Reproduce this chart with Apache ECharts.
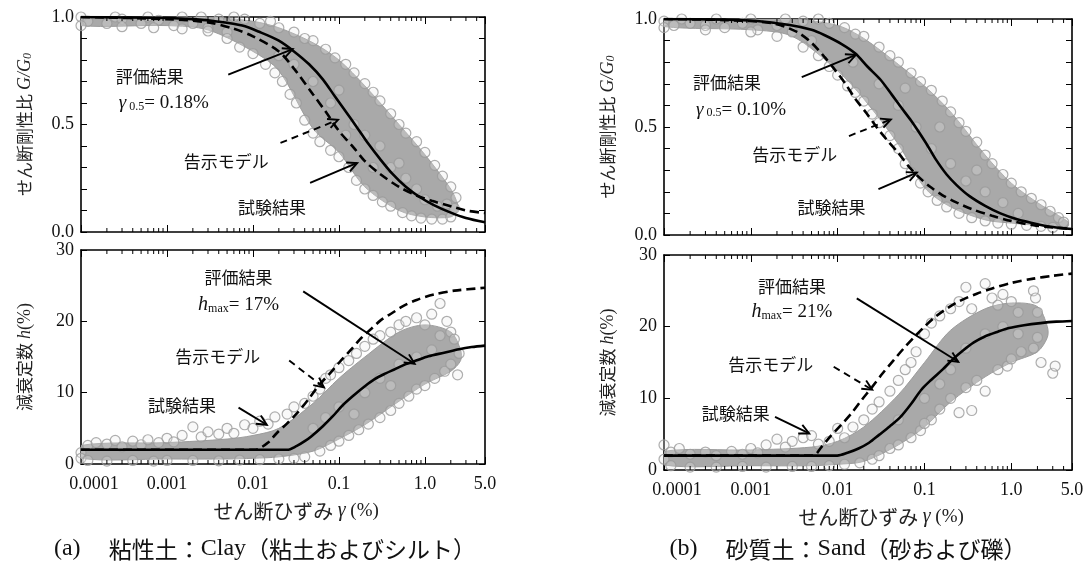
<!DOCTYPE html>
<html><head><meta charset="utf-8">
<script src="https://cdn.jsdelivr.net/npm/echarts@6/dist/echarts.min.js"></script>
<style>html,body{margin:0;padding:0;background:#fff}#c{width:1091px;height:572px}</style>
</head><body><div id="c"></div>
<script>
// ---------- tick labels ----------
const xTickValues = [0.0001, 0.001, 0.01, 0.1, 1, 5];
const xTickLabels = ['0.0001', '0.001', '0.01', '0.1', '1.0', '5.0'];
const gTickValues = [0, 0.5, 1.0];
const gTickLabels = ['0.0', '0.5', '1.0'];
const hTickValues = [0, 10, 20, 30];
const hTickLabels = ['0', '10', '20', '30'];
const minorDecades = [0.0001, 0.001, 0.01, 0.1, 1];
const minorMultipliers = [2, 3, 4, 5, 6, 7, 8, 9];

// ---------- (a) Clay : G/G0 ----------
const clayG_eval = [[0.0001,1.0],[0.001,0.995],[0.002,0.99],[0.004,0.978],[0.0075,0.96],[0.012,0.93],[0.02,0.89],[0.03,0.84],[0.045,0.78],[0.065,0.71],[0.09,0.63],[0.12,0.56],[0.16,0.49],[0.22,0.41],[0.3,0.34],[0.42,0.27],[0.6,0.21],[0.85,0.165],[1.27,0.125],[2,0.09],[3,0.065],[5,0.045]];
const clayG_model = [[0.0001,1.0],[0.001,0.99],[0.003,0.975],[0.006,0.945],[0.01,0.91],[0.02,0.84],[0.03,0.76],[0.05,0.64],[0.07,0.56],[0.1,0.47],[0.15,0.39],[0.2,0.33],[0.3,0.27],[0.5,0.21],[0.8,0.17],[1.2,0.145],[2,0.12],[3,0.1],[5,0.088]];
const clayG_bandX = [0.0001,0.001,0.003,0.01,0.02,0.05,0.1,0.2,0.5,1.0,2.0,2.4];
const clayG_lo = [0.96,0.96,0.94,0.84,0.75,0.48,0.37,0.21,0.1,0.07,0.07,0.1];
const clayG_hi = [1.0,1.0,1.0,0.98,0.95,0.88,0.8,0.68,0.5,0.36,0.2,0.13];
const clayG_pts = [[0.0001,1.0],[0.00012,0.98],[0.00015,1.01],[0.0002,0.97],[0.00025,1.0],[0.0003,0.99],[0.0004,1.01],[0.0005,0.97],[0.0006,1.0],[0.0008,0.985],[0.001,1.01],[0.0012,0.96],[0.0015,1.0],[0.002,0.97],[0.0025,1.0],[0.003,0.95],[0.004,0.99],[0.005,0.93],[0.006,1.0],
[0.0001,0.96],[0.0003,0.955],[0.0007,0.95],[0.0015,0.945],[0.003,0.935],[0.005,0.9],[0.007,0.86],[0.01,0.83],[0.014,0.78],[0.018,0.74],[0.022,0.7],[0.027,0.64],[0.032,0.6],[0.04,0.52],[0.05,0.46],[0.06,0.42],[0.08,0.38],[0.1,0.35],[0.13,0.3],[0.16,0.24],[0.2,0.2],[0.25,0.17],[0.32,0.14],[0.4,0.12],[0.55,0.09],[0.7,0.075],[0.9,0.065],[1.2,0.06],[1.6,0.06],[2.0,0.07],
[0.008,0.99],[0.012,0.97],[0.016,0.98],[0.02,0.95],[0.03,0.93],[0.04,0.9],[0.05,0.89],[0.07,0.85],[0.09,0.81],[0.12,0.78],[0.15,0.74],[0.2,0.69],[0.25,0.65],[0.3,0.61],[0.4,0.55],[0.5,0.5],[0.6,0.46],[0.8,0.42],[1.0,0.37],[1.3,0.31],[1.6,0.26],[2.0,0.21],[2.3,0.16],[2.2,0.11],[1.8,0.13],
[0.02,0.82],[0.05,0.7],[0.08,0.6],[0.1,0.66],[0.15,0.5],[0.2,0.45],[0.3,0.4],[0.4,0.3],[0.6,0.25],[0.8,0.2],[1.0,0.15],[1.4,0.12],[0.03,0.78],[0.12,0.45],[0.25,0.3],[0.5,0.32]];

// ---------- (a) Clay : h ----------
const clayH_eval = [[0.0001,2.0],[0.025,2.0],[0.032,2.5],[0.04,3.2],[0.048,3.9],[0.065,5.3],[0.085,6.7],[0.11,8.2],[0.148,9.6],[0.2,10.9],[0.26,11.9],[0.35,12.7],[0.45,13.3],[0.6,14.0],[0.79,14.5],[1.1,15.1],[1.67,15.6],[2.5,16.1],[3.5,16.4],[5,16.6]];
const clayH_model = [[0.0001,2.0],[0.01,2.0],[0.0115,2.1],[0.015,3.0],[0.019,4.35],[0.025,5.7],[0.033,7.2],[0.045,9.2],[0.058,11.0],[0.08,12.8],[0.102,14.3],[0.14,16.1],[0.18,17.6],[0.24,19.0],[0.31,20.2],[0.42,21.2],[0.55,22.1],[0.8,23.0],[1.27,23.75],[2.2,24.3],[5,24.7]];
const clayH_bandX = [0.0001,0.001,0.005,0.01,0.02,0.05,0.1,0.2,0.5,1.0,2.0,2.6];
const clayH_lo = [0.8,0.7,0.7,0.8,1.0,1.8,3.5,5.5,8.8,11.2,13,14.5];
const clayH_hi = [2.6,3.0,3.5,4.0,5.0,8.5,12.0,15.0,18.5,19.5,18.5,16];
const clayH_pts = [[0.0001,1.6],[0.0001,0.8],[0.00012,2.6],[0.00015,3.0],[0.0002,2.8],[0.00025,3.3],[0.0003,2.4],[0.0004,3.2],[0.0005,2.7],[0.0006,3.4],[0.0008,3.0],[0.001,3.6],[0.0012,3.1],[0.0015,4.0],[0.002,5.2],[0.0025,3.8],[0.003,4.5],[0.004,4.2],[0.005,5.0],[0.006,4.3],[0.008,5.5],[0.01,5.0],[0.012,6.0],[0.015,5.6],[0.018,6.6],
[0.00012,0.5],[0.0002,0.4],[0.0004,0.5],[0.0007,0.4],[0.001,0.5],[0.002,0.5],[0.004,0.45],[0.007,0.55],[0.012,0.6],[0.02,0.7],[0.03,0.8],
[0.025,7.0],[0.03,8.0],[0.04,8.5],[0.05,9.5],[0.06,10.5],[0.07,12.0],[0.08,12.5],[0.1,13.5],[0.13,14.5],[0.16,15.5],[0.2,16.5],[0.25,17.5],[0.3,18.0],[0.4,18.5],[0.5,19.5],[0.6,20.0],[0.8,20.5],[1.0,19.5],[1.2,21.0],[1.5,22.5],[1.8,20.0],[2.0,18.5],[2.5,15.5],[2.2,17.5],
[0.04,1.0],[0.06,1.8],[0.08,2.6],[0.1,3.2],[0.13,4.0],[0.17,4.8],[0.22,5.6],[0.3,6.5],[0.4,7.5],[0.5,8.5],[0.65,9.5],[0.8,10.5],[1.0,11.0],[1.3,12.0],[1.7,13.0],[2.0,14.0],[2.4,12.5],
[0.05,5],[0.1,8],[0.2,10],[0.3,12],[0.5,14],[0.8,15],[1.2,16],[0.15,7],[0.07,6.5],[0.4,11],[1.5,18]];

// ---------- (b) Sand : G/G0 ----------
const sandG_eval = [[0.0001,1.0],[0.0005,0.997],[0.0011,0.992],[0.0028,0.972],[0.005,0.95],[0.007,0.926],[0.011,0.885],[0.016,0.84],[0.022,0.78],[0.031,0.72],[0.042,0.65],[0.054,0.59],[0.07,0.53],[0.085,0.48],[0.11,0.41],[0.135,0.35],[0.18,0.28],[0.236,0.23],[0.33,0.18],[0.5,0.135],[0.75,0.1],[1.14,0.074],[2,0.05],[3,0.037],[5,0.028]];
const sandG_model = [[0.0001,1.0],[0.0005,0.995],[0.0018,0.98],[0.0034,0.94],[0.005,0.89],[0.007,0.826],[0.0095,0.76],[0.0123,0.70],[0.016,0.63],[0.0214,0.565],[0.028,0.5],[0.037,0.44],[0.05,0.38],[0.065,0.32],[0.085,0.27],[0.113,0.227],[0.16,0.185],[0.236,0.15],[0.35,0.12],[0.6,0.089],[1.0,0.065],[1.8,0.045],[3,0.035],[5,0.028]];
const sandG_bandX = [0.0001,0.001,0.003,0.01,0.02,0.05,0.1,0.2,0.5,1.0,2.0,3.5,4.5];
const sandG_lo = [0.965,0.95,0.92,0.76,0.63,0.42,0.22,0.13,0.07,0.055,0.045,0.04,0.04];
const sandG_hi = [1.0,1.0,1.0,0.97,0.91,0.79,0.69,0.57,0.37,0.24,0.15,0.09,0.06];
const sandG_pts = [[0.0001,0.99],[0.00011,1.02],[0.00013,0.97],[0.00016,1.0],[0.0002,0.98],[0.00025,1.01],[0.0003,0.97],[0.0004,1.0],[0.0005,0.96],[0.0006,1.01],[0.0008,0.98],[0.001,1.0],[0.0012,0.95],[0.0015,1.01],[0.002,0.97],[0.0025,1.0],[0.003,0.94],[0.004,0.99],[0.005,0.9],
[0.0001,0.96],[0.0003,0.95],[0.001,0.94],[0.002,0.92],[0.004,0.87],[0.006,0.83],[0.008,0.78],[0.01,0.74],[0.013,0.69],[0.016,0.66],[0.02,0.62],[0.025,0.56],[0.03,0.52],[0.04,0.46],[0.05,0.4],[0.06,0.33],[0.07,0.29],[0.09,0.24],[0.11,0.2],[0.14,0.16],[0.18,0.13],[0.25,0.1],[0.35,0.08],[0.5,0.065],[0.7,0.055],[1.0,0.05],[1.5,0.045],[2.2,0.04],[3.0,0.035],
[0.006,1.0],[0.008,0.98],[0.012,0.96],[0.016,0.93],[0.02,0.92],[0.03,0.87],[0.04,0.83],[0.05,0.8],[0.07,0.75],[0.09,0.71],[0.12,0.67],[0.16,0.62],[0.2,0.57],[0.25,0.52],[0.3,0.48],[0.4,0.43],[0.5,0.37],[0.6,0.33],[0.8,0.28],[1.0,0.24],[1.3,0.2],[1.7,0.17],[2.2,0.14],[2.8,0.11],[3.5,0.08],[4.0,0.06],
[0.015,0.8],[0.03,0.7],[0.05,0.6],[0.08,0.5],[0.12,0.4],[0.2,0.33],[0.3,0.25],[0.5,0.2],[0.8,0.15],[1.2,0.1],[0.06,0.68],[0.15,0.5],[0.4,0.3]];

// ---------- (b) Sand : h ----------
const sandH_eval = [[0.0001,2.0],[0.0099,2.0],[0.013,2.4],[0.0174,3.0],[0.023,3.8],[0.03,4.9],[0.04,6.1],[0.053,7.4],[0.07,9.2],[0.092,11.2],[0.12,12.6],[0.161,14.0],[0.21,15.4],[0.28,16.7],[0.37,17.8],[0.49,18.6],[0.7,19.3],[0.94,19.8],[1.4,20.2],[2.17,20.5],[3.3,20.7],[5,20.8]];
const sandH_model = [[0.0001,2.0],[0.0052,2.0],[0.0065,3.2],[0.0082,4.65],[0.011,6.3],[0.0144,7.9],[0.019,9.8],[0.025,11.6],[0.033,13.5],[0.044,15.3],[0.058,17.0],[0.077,18.6],[0.1,20.0],[0.134,21.4],[0.19,22.7],[0.256,23.6],[0.4,24.6],[0.59,25.3],[1.0,26.1],[1.8,26.7],[3,27.1],[5,27.4]];
const sandH_bandX = [0.0001,0.001,0.005,0.01,0.02,0.05,0.1,0.2,0.5,1.0,2.0,2.6];
const sandH_lo = [0.7,0.6,0.6,0.8,1.2,3.5,6.0,9.5,13.0,15.0,16.5,18.5];
const sandH_hi = [2.6,2.8,3.2,4.0,6.0,10.5,15.0,19.5,22.5,23.3,22.8,20.0];
const sandH_pts = [[0.0001,3.5],[0.0001,1.5],[0.00012,2.5],[0.00015,3.0],[0.0002,2.2],[0.0003,2.5],[0.0004,2.0],[0.0006,2.6],[0.0008,2.2],[0.001,3.0],[0.0012,2.4],[0.0015,3.5],[0.002,4.3],[0.0025,3.2],[0.003,4.0],[0.004,4.5],[0.005,4.8],[0.006,3.6],[0.008,4.0],[0.01,5.8],[0.012,4.5],
[0.00012,0.6],[0.0002,0.4],[0.0004,0.4],[0.0008,0.5],[0.0015,0.4],[0.003,0.5],[0.005,0.5],[0.008,0.6],[0.012,0.8],[0.018,1.0],[0.025,1.5],
[0.015,6.0],[0.02,7.0],[0.025,8.5],[0.03,9.5],[0.04,11.0],[0.05,12.5],[0.06,14.0],[0.07,15.0],[0.08,16.5],[0.1,19.0],[0.12,20.5],[0.15,21.5],[0.2,22.5],[0.25,23.5],[0.3,25.5],[0.35,22.5],[0.5,26.0],[0.6,24.0],[0.7,23.0],[0.8,24.5],[1.0,23.5],[1.2,22.0],[1.8,25.0],[1.9,24.0],[2.0,22.0],
[0.03,2.0],[0.04,3.0],[0.05,3.5],[0.07,4.5],[0.09,5.5],[0.12,7.0],[0.15,8.5],[0.2,10.0],[0.25,8.0],[0.3,11.5],[0.4,12.5],[0.5,11.0],[0.7,14.0],[0.9,14.5],[1.0,15.5],[1.3,16.5],[1.8,17.0],[2.0,18.5],[2.2,15.0],[3.0,13.5],[3.2,14.5],[0.1,6.5],[0.35,8.3],
[0.05,7],[0.1,10],[0.2,14],[0.3,17],[0.5,19],[0.8,20],[1.2,19],[0.15,12]];

// ---------- build chart ----------
const SERIF = 'Liberation Serif';
const JP = 'Noto Sans CJK JP';
const minorTicks = [];
minorDecades.forEach(d => minorMultipliers.forEach(m => { const v = d * m; if (v < 5) minorTicks.push(v); }));

function near(a, b) { return Math.abs(Math.log10(a) - Math.log10(b)) < 1e-6; }
function fmtX(v) {
  for (let i = 0; i < xTickValues.length; i++) if (near(v, xTickValues[i])) return i === 0 ? '{f|' + xTickLabels[i] + '}' : xTickLabels[i];
  return '';
}
function fmtY(vals, labs) {
  return v => { for (let i = 0; i < vals.length; i++) if (Math.abs(v - vals[i]) < 1e-6) return labs[i]; return ''; };
}

const grids = [
  {left: 81, top: 17, width: 404, height: 215},
  {left: 81, top: 250, width: 404, height: 214},
  {left: 664, top: 19, width: 408, height: 216},
  {left: 664, top: 255, width: 408, height: 215}
];
const panels = [
  {eval: clayG_eval, model: clayG_model, bx: clayG_bandX, lo: clayG_lo, hi: clayG_hi, pts: clayG_pts, kind: 'G'},
  {eval: clayH_eval, model: clayH_model, bx: clayH_bandX, lo: clayH_lo, hi: clayH_hi, pts: clayH_pts, kind: 'h'},
  {eval: sandG_eval, model: sandG_model, bx: sandG_bandX, lo: sandG_lo, hi: sandG_hi, pts: sandG_pts, kind: 'G'},
  {eval: sandH_eval, model: sandH_model, bx: sandH_bandX, lo: sandH_lo, hi: sandH_hi, pts: sandH_pts, kind: 'h'}
];

const axisLine = {show: true, onZero: false, lineStyle: {color: '#000', width: 1.6}};
const xAxes = [], yAxes = [], series = [];
panels.forEach((p, i) => {
  const bottomPlot = p.kind === 'h';
  const common = {type: 'log', logBase: 10, gridIndex: i, min: 0.0001, max: 5, splitLine: {show: false}, axisLine: axisLine,
    axisTick: {show: true, inside: true, length: 7, lineStyle: {color: '#000', width: 1}}};
  xAxes.push(Object.assign({}, common, {position: 'bottom',
    axisLabel: {show: bottomPlot, margin: 11, fontFamily: SERIF, fontSize: 18, color: '#111', hideOverlap: false, formatter: fmtX,
      rich: {f: {fontFamily: SERIF, fontSize: 18, color: '#111', padding: [0, 0, 0, 26]}}},
    name: bottomPlot ? '{p|}{j|せん断ひずみ }{g|γ}{s| (%)}' : '', nameLocation: 'middle', nameGap: 37,
    nameTextStyle: {rich: {p: {width: 26}, j: {fontFamily: JP, fontSize: 20, color: '#222'}, g: {fontFamily: SERIF, fontStyle: 'italic', fontSize: 20, color: '#222'}, s: {fontFamily: SERIF, fontSize: 19, color: '#222'}}}
  }));
  xAxes.push(Object.assign({}, common, {position: 'top', axisLabel: {show: false}}));
  const yMax = p.kind === 'G' ? 1 : 30;
  const yInt = p.kind === 'G' ? 0.1 : 10;
  const ycommon = {type: 'value', gridIndex: i, min: 0, max: yMax, interval: yInt, splitLine: {show: false}, axisLine: axisLine,
    axisTick: {show: true, inside: true, length: 6, lineStyle: {color: '#000', width: 1}}};
  yAxes.push(Object.assign({}, ycommon, {position: 'left',
    axisLabel: {show: true, margin: 7, fontFamily: SERIF, fontSize: 18, color: '#111',
      formatter: p.kind === 'G' ? fmtY(gTickValues, gTickLabels) : fmtY(hTickValues, hTickLabels)},
    name: p.kind === 'G' ? '{j|せん断剛性比 }{i|G/G}{s|0}' : '{j|減衰定数 }{i|h}{n|(%)}',
    nameLocation: 'middle', nameRotate: 90, nameGap: 47,
    nameTextStyle: {rich: {
      j: {fontFamily: JP, fontSize: 17, color: '#222'},
      i: {fontFamily: SERIF, fontStyle: 'italic', fontSize: 18, color: '#222'},
      n: {fontFamily: SERIF, fontSize: 18, color: '#222'},
      s: {fontFamily: SERIF, fontStyle: 'italic', fontSize: 12, color: '#222', verticalAlign: 'bottom', lineHeight: 12}}}
  }));
  yAxes.push(Object.assign({}, ycommon, {position: 'right', axisLabel: {show: false}}));

  const xi = 2 * i, yi = 2 * i;
  // dense core of the test-result cloud
  series.push({type: 'custom', xAxisIndex: xi, yAxisIndex: yi, z: 1, clip: true, silent: true,
    data: [[p.bx[0], p.lo[0]]],
    renderItem: (params, api) => {
      const pts = [];
      p.bx.forEach((x, k) => pts.push(api.coord([x, p.hi[k]])));
      for (let k = p.bx.length - 1; k >= 0; k--) pts.push(api.coord([p.bx[k], p.lo[k]]));
      return {type: 'polygon', shape: {points: pts, smooth: 0.3}, style: {fill: '#a9a9a9', stroke: '#9c9c9c', lineWidth: 1}};
    }});
  // individual test-result circles
  series.push({type: 'scatter', xAxisIndex: xi, yAxisIndex: yi, z: 2, silent: true, data: p.pts, symbol: 'circle', symbolSize: 10,
    itemStyle: {color: 'rgba(235,235,235,0.35)', borderColor: '#9a9a9a', borderWidth: 1.2}});
  // model (dashed)
  series.push({type: 'line', xAxisIndex: xi, yAxisIndex: yi, z: 3, data: p.model, showSymbol: false, smooth: 0.3, silent: true,
    lineStyle: {color: '#000', width: 2.6, type: [9, 5]}});
  // evaluation (solid)
  series.push({type: 'line', xAxisIndex: xi, yAxisIndex: yi, z: 4, data: p.eval, showSymbol: false, smooth: 0.3, silent: true,
    lineStyle: {color: '#000', width: 2.6}});
  // log minor ticks on top & bottom edges
  series.push({type: 'custom', xAxisIndex: xi, yAxisIndex: yi, z: 5, clip: false, silent: true,
    data: minorTicks.map(v => [v, 0]),
    renderItem: (params, api) => {
      const v = api.value(0);
      const b = api.coord([v, 0]), t = api.coord([v, yMax]);
      return {type: 'group', children: [
        {type: 'line', shape: {x1: b[0], y1: b[1], x2: b[0], y2: b[1] - 4}, style: {stroke: '#000', lineWidth: 1}},
        {type: 'line', shape: {x1: t[0], y1: t[1], x2: t[0], y2: t[1] + 4}, style: {stroke: '#000', lineWidth: 1}}]};
    }});
});

const chart = echarts.init(document.getElementById('c'), null, {renderer: 'canvas'});
chart.setOption({
  animation: false,
  backgroundColor: '#fff',
  grid: grids.map(g => Object.assign({containLabel: false, outerBoundsMode: 'none'}, g)),
  xAxis: xAxes, yAxis: yAxes, series: series
});

// ---------- annotations ----------
const richStyle = {
  gm: {fontFamily: SERIF, fontStyle: 'italic', fontSize: 19, fill: '#111'},
  hi: {fontFamily: SERIF, fontStyle: 'italic', fontSize: 20, fill: '#111'},
  sub: {fontFamily: SERIF, fontSize: 12, fill: '#111', verticalAlign: 'bottom', lineHeight: 13},
  n: {fontFamily: SERIF, fontSize: 19, fill: '#111'}
};
const ann = [
  {g: 0, t: '評価結果', at: [0.00063, 0.724]},
  {g: 0, t: '{gm|γ}{sub| 0.5}{n|= 0.18%}', at: [0.00092, 0.6], rich: true},
  {g: 0, a: [[0.00516, 0.732], [0.029, 0.851]]},
  {g: 0, t: '告示モデル', at: [0.0049, 0.329]},
  {g: 0, a: [[0.0209, 0.414], [0.0975, 0.522]], dashed: true},
  {g: 0, t: '試験結果', at: [0.0166, 0.112]},
  {g: 0, a: [[0.0462, 0.228], [0.163, 0.321]]},

  {g: 1, t: '評価結果', at: [0.0068, 26.1]},
  {g: 1, t: '{hi|h}{sub|max}{n|= 17%}', at: [0.0068, 22.3], rich: true},
  {g: 1, a: [[0.0384, 24.2], [0.76, 14.05]]},
  {g: 1, t: '告示モデル', at: [0.0039, 15.0]},
  {g: 1, a: [[0.0264, 14.5], [0.067, 10.74]], dashed: true},
  {g: 1, t: '試験結果', at: [0.0015, 8.14]},
  {g: 1, a: [[0.0068, 7.9], [0.0145, 5.5]]},

  {g: 2, t: '評価結果', at: [0.00053, 0.704]},
  {g: 2, t: '{gm|γ}{sub| 0.5}{n|= 0.10%}', at: [0.00077, 0.58], rich: true},
  {g: 2, a: [[0.00386, 0.731], [0.0162, 0.834]]},
  {g: 2, t: '告示モデル', at: [0.0032, 0.373]},
  {g: 2, a: [[0.0135, 0.458], [0.041, 0.535]], dashed: true},
  {g: 2, t: '試験結果', at: [0.0085, 0.127]},
  {g: 2, a: [[0.0295, 0.212], [0.0817, 0.289]]},

  {g: 3, t: '評価結果', at: [0.00297, 25.6]},
  {g: 3, t: '{hi|h}{sub|max}{n|= 21%}', at: [0.00297, 22.1], rich: true},
  {g: 3, a: [[0.0166, 23.95], [0.245, 15.1]]},
  {g: 3, t: '告示モデル', at: [0.0017, 14.65]},
  {g: 3, a: [[0.009, 14.4], [0.025, 11.2]], dashed: true},
  {g: 3, t: '試験結果', at: [0.00067, 7.9]},
  {g: 3, a: [[0.0019, 7.4], [0.0047, 5.1]]}
];
const graphics = [];
ann.forEach(o => {
  if (o.t) {
    const p = chart.convertToPixel({gridIndex: o.g}, o.at);
    graphics.push({type: 'text', x: p[0], y: p[1], z: 20, silent: true,
      style: o.rich ? {text: o.t, rich: richStyle, align: 'center', verticalAlign: 'middle'}
                    : {text: o.t, fontFamily: JP, fontSize: 17, fill: '#111', align: 'center', verticalAlign: 'middle'}});
  } else {
    const s = chart.convertToPixel({gridIndex: o.g}, o.a[0]);
    const e = chart.convertToPixel({gridIndex: o.g}, o.a[1]);
    const ang = Math.atan2(e[1] - s[1], e[0] - s[0]);
    const L = 11, th = 0.45;
    const h1 = [e[0] - L * Math.cos(ang - th), e[1] - L * Math.sin(ang - th)];
    const h2 = [e[0] - L * Math.cos(ang + th), e[1] - L * Math.sin(ang + th)];
    graphics.push({type: 'line', z: 20, silent: true, shape: {x1: s[0], y1: s[1], x2: e[0], y2: e[1]},
      style: {stroke: '#000', lineWidth: 1.9, lineDash: o.dashed ? [7, 5] : null}});
    graphics.push({type: 'polyline', z: 20, silent: true, shape: {points: [h1, e, h2]},
      style: {stroke: '#000', lineWidth: 1.9, fill: null}});
  }
});
// captions
const capRich = {s: {fontFamily: SERIF, fontSize: 24, fill: '#111'}, j: {fontFamily: JP, fontSize: 23, fill: '#111'}};
graphics.push({type: 'text', x: 265, y: 549, z: 20, silent: true, style: {
  text: '{s|(a)}{j|　 粘性土：}{s|Clay}{j|（粘土およびシルト）}', align: 'center', verticalAlign: 'middle', rich: capRich}});
graphics.push({type: 'text', x: 848, y: 549, z: 20, silent: true, style: {
  text: '{s|(b)}{j|　 砂質土：}{s|Sand}{j|（砂および礫）}', align: 'center', verticalAlign: 'middle', rich: capRich}});
chart.setOption({graphic: graphics});
</script>
</body></html>
